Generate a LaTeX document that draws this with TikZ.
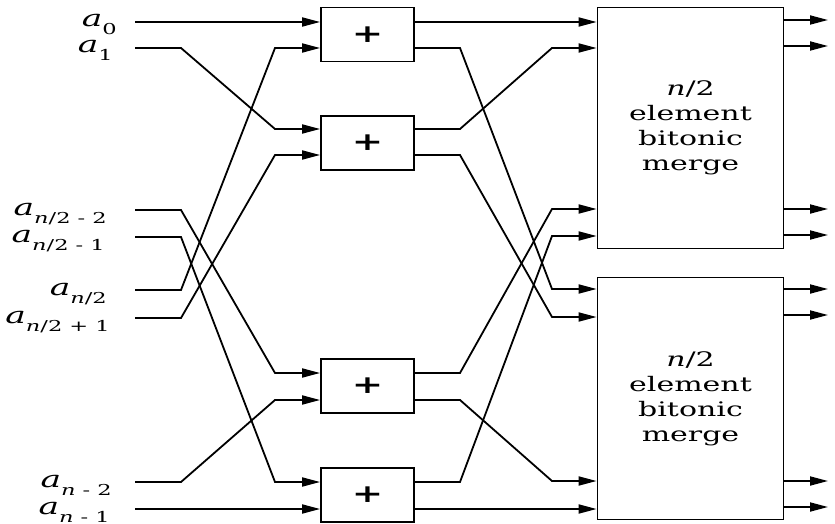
\documentclass[tikz,border=0pt]{standalone}
\usepackage{fontspec}
\setmainfont{DejaVu Serif}[FakeStretch=1.5]
\usetikzlibrary{arrows.meta}
\newcommand\sublab[1]{\textit{a}\raisebox{-8pt}{\fontsize{15}{15}\selectfont #1}}
\begin{document}
\begin{tikzpicture}[x=1pt,y=1pt,
  wire/.style={line width=1.8pt, -{Triangle[length=18pt,width=9pt]}},
  plusbox/.style={draw, line width=1.8pt, minimum width=93pt, minimum height=54pt, inner sep=0pt, font=\fontsize{25}{25}\selectfont\bfseries},
  mergebox/.style={draw, line width=1.8pt, minimum width=186pt, minimum height=241pt, inner sep=0pt, align=center, font=\fontsize{20}{25}\selectfont},
  lab/.style={anchor=base east, inner sep=0pt, font=\fontsize{23}{23}\selectfont}]
\useasboundingbox (0,0) rectangle (835,-524);
% plus boxes
\node[plusbox] (p1) at (367.5,-34.5) {+};
\node[plusbox] (p2) at (367.5,-143) {+};
\node[plusbox] (p3) at (367.5,-386) {+};
\node[plusbox] (p4) at (367.5,-495) {+};
% merge boxes
\node[mergebox] (mA) at (690.5,-128) {\textit{n}/2\\element\\bitonic\\merge};
\node[mergebox, minimum height=242pt] (mB) at (690.5,-398.5) {\textit{n}/2\\element\\bitonic\\merge};
% labels
\node[lab] (l0) at (117,-27) {\sublab{0}};
\node[lab] (l1) at (113,-53) {\sublab{1}};
\node[lab] (l2) at (107,-215) {\sublab{\textit{n}/2 - 2}};
\node[lab] (l3) at (105,-242) {\sublab{\textit{n}/2 - 1}};
\node[lab] (l4) at (107,-295) {\sublab{\textit{n}/2}};
\node[lab] (l5) at (110,-323) {\sublab{\textit{n}/2 + 1}};
\node[lab] (l6) at (112,-487) {\sublab{\textit{n} - 2}};
\node[lab] (l7) at (110,-514) {\sublab{\textit{n} - 1}};
% wire starts
\coordinate (s0) at (135,-22);
\coordinate (s1) at (135,-48);
\coordinate (s2) at (135,-210);
\coordinate (s3) at (135,-237);
\coordinate (s4) at (135,-290);
\coordinate (s5) at (135,-318);
\coordinate (s6) at (135,-482);
\coordinate (s7) at (135,-509);
% outputs
\coordinate (oA1) at (828,-20);
\coordinate (oA2) at (828,-46);
\coordinate (oA3) at (828,-209);
\coordinate (oA4) at (828,-235);
\coordinate (oB1) at (828,-289);
\coordinate (oB2) at (828,-315);
\coordinate (oB3) at (828,-481);
\coordinate (oB4) at (828,-507);
% left wiring
\draw[wire] (s0) -- (p1.west |- s0);
\draw[wire] (s1) -- (181,-48) -- (275,-129) -- (p2.west |- 0,-129);
\draw[wire] (s4) -- (181,-290) -- (275,-48) -- (p1.west |- 0,-48);
\draw[wire] (s5) -- (181,-318) -- (275,-155) -- (p2.west |- 0,-155);
\draw[wire] (s2) -- (181,-210) -- (275,-373) -- (p3.west |- 0,-373);
\draw[wire] (s3) -- (181,-237) -- (275,-482) -- (p4.west |- 0,-482);
\draw[wire] (s6) -- (181,-482) -- (275,-400) -- (p3.west |- 0,-400);
\draw[wire] (s7) -- (p4.west |- s7);
% right wiring
\draw[wire] (p1.east |- 0,-22) -- (mA.west |- 0,-22);
\draw[wire] (p1.east |- 0,-48) -- (460,-48) -- (552,-289) -- (mB.west |- 0,-289);
\draw[wire] (p2.east |- 0,-129) -- (460,-129) -- (552,-48) -- (mA.west |- 0,-48);
\draw[wire] (p2.east |- 0,-155) -- (460,-155) -- (552,-317) -- (mB.west |- 0,-317);
\draw[wire] (p3.east |- 0,-373) -- (460,-373) -- (552,-209) -- (mA.west |- 0,-209);
\draw[wire] (p3.east |- 0,-400) -- (460,-400) -- (552,-481) -- (mB.west |- 0,-481);
\draw[wire] (p4.east |- 0,-482) -- (460,-482) -- (552,-236) -- (mA.west |- 0,-236);
\draw[wire] (p4.east |- 0,-509) -- (mB.west |- 0,-509);
% merge outputs
\draw[wire] (mA.east |- oA1) -- (oA1);
\draw[wire] (mA.east |- oA2) -- (oA2);
\draw[wire] (mA.east |- oA3) -- (oA3);
\draw[wire] (mA.east |- oA4) -- (oA4);
\draw[wire] (mB.east |- oB1) -- (oB1);
\draw[wire] (mB.east |- oB2) -- (oB2);
\draw[wire] (mB.east |- oB3) -- (oB3);
\draw[wire] (mB.east |- oB4) -- (oB4);
\end{tikzpicture}
\end{document}
